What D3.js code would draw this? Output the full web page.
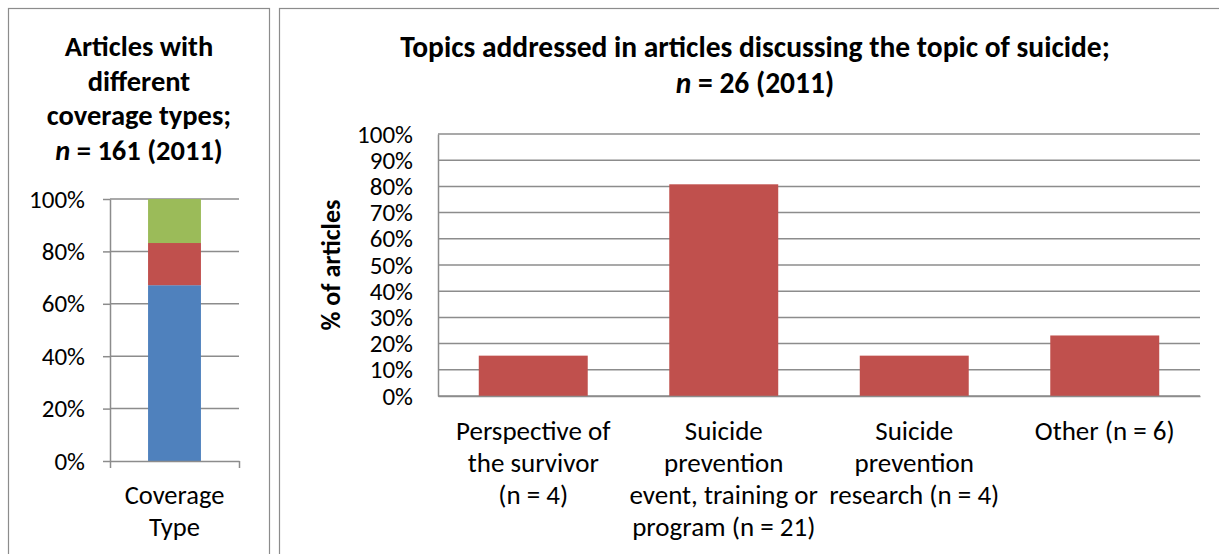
<!DOCTYPE html>
<html><head><meta charset="utf-8">
<script src="https://cdn.jsdelivr.net/npm/d3@7"></script>
<style>
html,body{margin:0;padding:0;background:#fff;}
svg{display:block;font-family:Carlito,Lato,"Liberation Sans",sans-serif;}
</style></head>
<body>
<svg id="c" width="1219" height="554"></svg>
<script>
// Left chart data (stacked, % of 161 articles)
const coverageCategory = ["Coverage Type"];
const coverageSeries = ["Type A", "Type B", "Type C"];
const coverageValues = [67.1, 16.1, 16.8];
const coverageColors = ["#4F81BD", "#C0504D", "#9BBB59"];
const leftTicks = [0, 20, 40, 60, 80, 100];

// Right chart data
const topicCategories = [
  ["Perspective of", "the survivor", "(n = 4)"],
  ["Suicide", "prevention", "event, training or", "program (n = 21)"],
  ["Suicide", "prevention", "research (n = 4)"],
  ["Other (n = 6)"]
];
const topicValues = [15.4, 80.8, 15.4, 23.1];
const rightTicks = [0,10,20,30,40,50,60,70,80,90,100];

const svg = d3.select("#c");
const gridCol = "#8c8c8c";
const tickFs = 25;
const catFs = 27;

// panel borders
svg.append("rect").attr("x",8.5).attr("y",8.5).attr("width",261).attr("height",560)
  .attr("fill","none").attr("stroke","#8c8c8c").attr("stroke-width",1.2);
svg.append("rect").attr("x",279.5).attr("y",8.5).attr("width",960).attr("height",560)
  .attr("fill","none").attr("stroke","#8c8c8c").attr("stroke-width",1.2);

// ---------- Left chart ----------
const L = {x0:110, x1:239, y0:461, y1:199};
const ly = d3.scaleLinear().domain([0,100]).range([L.y0, L.y1]);
const lx = d3.scaleBand().domain(coverageCategory).range([L.x0, L.x1]).paddingInner(0.59).paddingOuter(0.295);

const lt = svg.append("g").attr("font-weight","bold").attr("font-size",28.5).attr("text-anchor","middle");
["Articles with","different","coverage types;"].forEach((l,i)=>{
  lt.append("text").attr("x",139).attr("y",56+i*34.5).text(l);
});
const nl = lt.append("text").attr("x",139).attr("y",56+3*34.5);
nl.append("tspan").attr("font-style","italic").text("n");
nl.append("tspan").text(" = 161 (2011)");

// gridlines
svg.append("g").selectAll("line").data(leftTicks.filter(d=>d>0)).join("line")
  .attr("x1",L.x0).attr("x2",L.x1).attr("y1",d=>ly(d)).attr("y2",d=>ly(d))
  .attr("stroke",gridCol).attr("stroke-width",1.5);

// stacked bars
let cum = 0;
const stackData = coverageValues.map((v,i)=>{const s={y0:cum,y1:cum+v,c:coverageColors[i]}; cum+=v; return s;});
svg.append("g").selectAll("rect").data(stackData).join("rect")
  .attr("x",lx(coverageCategory[0])).attr("width",lx.bandwidth())
  .attr("y",d=>ly(Math.min(d.y1,100))).attr("height",d=>ly(d.y0)-ly(Math.min(d.y1,100)))
  .attr("fill",d=>d.c);

// left axis
const lAxis = svg.append("g").attr("transform",`translate(${L.x0},0)`)
  .call(d3.axisLeft(ly).tickValues(leftTicks).tickFormat(d=>d+"%").tickSize(7).tickSizeOuter(0).tickPadding(18));
lAxis.attr("font-family",null).attr("font-size",tickFs);
lAxis.selectAll("path,line").attr("stroke",gridCol).attr("stroke-width",1.5);
lAxis.selectAll("text").attr("fill","#000");
// bottom axis
const lxAxis = svg.append("g").attr("transform",`translate(0,${L.y0})`)
  .call(d3.axisBottom(d3.scaleLinear().domain([0,1]).range([L.x0,L.x1])).tickValues([0,1]).tickSize(7).tickSizeOuter(0).tickFormat(""));
lxAxis.selectAll("path,line").attr("stroke",gridCol).attr("stroke-width",1.5);
const cx = lx(coverageCategory[0]) + lx.bandwidth()/2;
["Coverage","Type"].forEach((w,i)=>{
  svg.append("text").attr("x",cx).attr("y",504+i*32).attr("text-anchor","middle").attr("font-size",26.5).text(w);
});

// ---------- Right chart ----------
const R = {x0:438, x1:1200, y0:396, y1:134};
const ry = d3.scaleLinear().domain([0,100]).range([R.y0, R.y1]);
const rx = d3.scaleBand().domain(d3.range(topicCategories.length)).range([R.x0,R.x1]).paddingInner(0.428).paddingOuter(0.214);

const rt = svg.append("g").attr("font-weight","bold").attr("font-size",29.5).attr("text-anchor","middle");
rt.append("text").attr("x",755).attr("y",57).text("Topics addressed in articles discussing the topic of suicide;");
const n2 = rt.append("text").attr("x",755).attr("y",93);
n2.append("tspan").attr("font-style","italic").text("n");
n2.append("tspan").text(" = 26 (2011)");

svg.append("g").selectAll("line").data(rightTicks).join("line")
  .attr("x1",R.x0).attr("x2",R.x1).attr("y1",d=>ry(d)).attr("y2",d=>ry(d))
  .attr("stroke",gridCol).attr("stroke-width",1.5);

svg.append("g").selectAll("rect").data(topicValues).join("rect")
  .attr("x",(d,i)=>rx(i)).attr("width",rx.bandwidth())
  .attr("y",d=>ry(d)).attr("height",d=>ry(0)-ry(d)).attr("fill","#C0504D");

const rAxis = svg.append("g").attr("transform",`translate(${R.x0},0)`)
  .call(d3.axisLeft(ry).tickValues(rightTicks).tickFormat(d=>d+"%").tickSize(0).tickSizeOuter(0).tickPadding(25));
rAxis.attr("font-family",null).attr("font-size",tickFs);
rAxis.selectAll("path").attr("stroke",gridCol).attr("stroke-width",1.5);
rAxis.selectAll("text").attr("fill","#000");
const rxAxis = svg.append("g").attr("transform",`translate(0,${R.y0})`)
  .call(d3.axisBottom(d3.scaleLinear().range([R.x0,R.x1])).tickValues([]).tickSizeOuter(0));
rxAxis.selectAll("path").attr("stroke",gridCol).attr("stroke-width",1.5);

svg.append("text").attr("transform","translate(340,265) rotate(-90)")
  .attr("text-anchor","middle").attr("font-weight","bold").attr("font-size",26).text("% of articles");

topicCategories.forEach((lines,i)=>{
  const x = rx(i)+rx.bandwidth()/2;
  lines.forEach((t,j)=>{
    svg.append("text").attr("x",x).attr("y",440+j*32).attr("text-anchor","middle").attr("font-size",catFs).text(t);
  });
});
</script>
</body></html>
